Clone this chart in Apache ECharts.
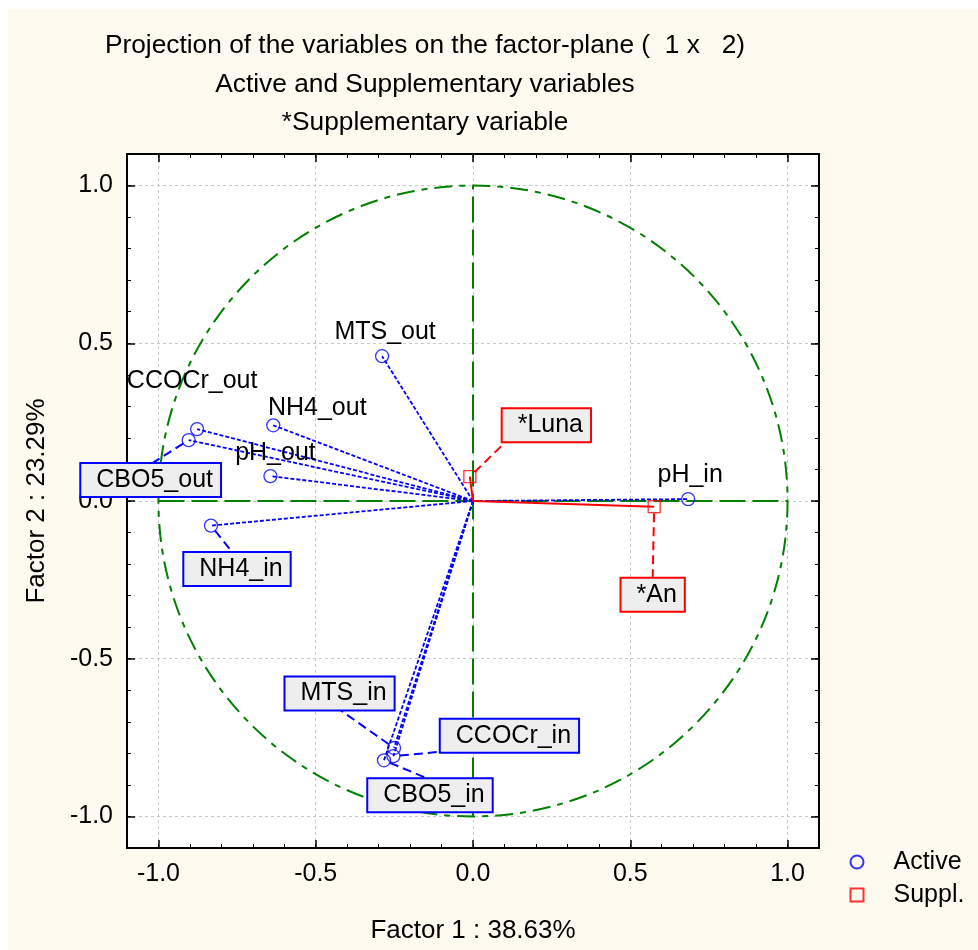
<!DOCTYPE html>
<html><head><meta charset="utf-8">
<script src="https://cdn.jsdelivr.net/npm/echarts@6/dist/echarts.min.js"></script>
<style>html,body{margin:0;padding:0;background:#fffaef}#c{width:978px;height:950px}</style>
</head><body><div id="c"></div>
<script>
// ---- data ----
const activeNames = ['MTS_out','NH4_out','CCOCr_out','CBO5_out','pH_out','NH4_in','pH_in','MTS_in','CCOCr_in','CBO5_in'];
const activeF1 = [-0.289,-0.635,-0.877,-0.904,-0.644,-0.833,0.684,-0.251,-0.253,-0.283];
const activeF2 = [0.459,0.240,0.228,0.193,0.079,-0.078,0.006,-0.783,-0.809,-0.822];
const supplNames = ['*Luna','*An'];
const supplF1 = [-0.010,0.576];
const supplF2 = [0.077,-0.018];
const majorTicks = [-1.0,-0.5,0.0,0.5,1.0];
const minorTicks = [-1.1,-1.0,-0.9,-0.8,-0.7,-0.6,-0.5,-0.4,-0.3,-0.2,-0.1,0.0,0.1,0.2,0.3,0.4,0.5,0.6,0.7,0.8,0.9,1.0,1.1];
const unitCircle = [[0,0,1]];
const axisCross = {h:[[-1,0],[1,0]], v:[[0,-1],[0,1]]};
const titleLines = ['Projection of the variables on the factor-plane (  1 x   2)','Active and Supplementary variables','*Supplementary variable'];
const xName = 'Factor 1 : 38.63%';
const yName = 'Factor 2 : 23.29%';
const legendNames = ['Active','Suppl.'];

// ---- styles / layout ----
const FONT = '"Liberation Sans", Arial, Helvetica, sans-serif';
const BLUE = '#0000ff', RED = '#ff0000', GREEN = '#008000';
const labelLayout = {
  'MTS_out':  {dx:3, dy:-24},
  'CCOCr_out':{dx:-5, dy:-48},
  'NH4_out':  {dx:44, dy:-17},
  'pH_out':   {dx:5, dy:-23},
  'pH_in':    {dx:2, dy:-24},
  'CBO5_out': {dx:-38, dy:40, box:true, ax:0, ay:-16},
  'NH4_in':   {dx:26, dy:43.5, box:true, ax:-4, ay:-16},
  'MTS_in':   {dx:-54.5, dy:-54.5, box:true, ax:0, ay:16},
  'CCOCr_in': {dx:116, dy:-20.5, box:true, ax:-69, ay:16},
  'CBO5_in':  {dx:46, dy:35, box:true, ax:-3, ay:-17},
  '*Luna':    {dx:76.5, dy:-51.5, box:true, ax:-40, ay:16},
  '*An':      {dx:-1.5, dy:88, box:true, ax:0, ay:-17}
};

const allNames = activeNames.concat(supplNames);
const activeData = activeF1.map((v,i)=>[v, activeF2[i]]);
const supplData = supplF1.map((v,i)=>[v, supplF2[i]]);
const allData = activeData.concat(supplData);

function axisDef(pos, ticks, major, showLab, name, nameGap) {
  const o = {
    type:'value', position:pos, min:-1.1, max:1.1,
    axisLine:{show:major, onZero:false, lineStyle:{color:'#000', width:2}},
    axisTick:{show:true, inside:true, length: major?8:4, customValues:ticks, lineStyle:{color:'#000', width: major?1.5:1}},
    axisLabel:{show:showLab, customValues:ticks, margin:14, formatter:v=>v.toFixed(1), fontSize:25, color:'#000', fontFamily:FONT},
    splitLine:{show:showLab, lineStyle:{color:'#c8c8c8', type:[3,3], width:1}}
  };
  if (name) {
    o.name = name; o.nameLocation = 'middle'; o.nameGap = nameGap;
    o.nameTextStyle = {fontSize:26, color:'#000', fontFamily:FONT};
  }
  return o;
}

function vectorSeries(data, color, width, dash, z) {
  return {
    type:'custom', silent:true, z:z, data:data,
    renderItem:function(params, api){
      const p0 = api.coord([0,0]);
      const p1 = api.coord([api.value(0), api.value(1)]);
      return {type:'line', shape:{x1:p0[0],y1:p0[1],x2:p1[0],y2:p1[1]},
        style:{stroke:color, lineWidth:width, lineDash:dash, fill:null}};
    }
  };
}

const option = {
  backgroundColor:'#fffaef',
  animation:false,
  graphic:[
    {type:'rect', shape:{x:0,y:0,width:978,height:9}, style:{fill:'#ffffff'}, silent:true},
    {type:'rect', shape:{x:0,y:0,width:8,height:950}, style:{fill:'#ffffff'}, silent:true},
    {type:'text', x:425, y:46, style:{text:titleLines[0], align:'center', verticalAlign:'middle', font:'26.3px '+FONT, fill:'#000'}},
    {type:'text', x:425, y:84.5, style:{text:titleLines[1], align:'center', verticalAlign:'middle', font:'26.3px '+FONT, fill:'#000'}},
    {type:'text', x:425, y:123, style:{text:titleLines[2], align:'center', verticalAlign:'middle', font:'26.3px '+FONT, fill:'#000'}}
  ],
  grid:{left:127, top:154, width:692, height:694, show:true, backgroundColor:'#ffffff', borderWidth:0, containLabel:false, outerBoundsMode:'none'},
  legend:{
    orient:'vertical', left:849.5, top:849.5, padding:0, itemGap:8, itemWidth:13, itemHeight:13,
    data:[{name:legendNames[0], icon:'circle'},{name:legendNames[1], icon:'rect'}],
    textStyle:{fontSize:25, color:'#000', fontFamily:FONT, padding:[0,0,0,25]},
    selectedMode:false
  },
  xAxis:[
    axisDef('bottom', majorTicks, true, true, xName, 70),
    axisDef('bottom', minorTicks, false, false),
    axisDef('top', majorTicks, true, false),
    axisDef('top', minorTicks, false, false)
  ],
  yAxis:[
    axisDef('left', majorTicks, true, true, yName, 77),
    axisDef('left', minorTicks, false, false),
    axisDef('right', majorTicks, true, false),
    axisDef('right', minorTicks, false, false)
  ],
  series:[
    {
      type:'custom', silent:true, z:1, data:unitCircle,
      renderItem:function(params, api){
        const c = api.coord([api.value(0), api.value(1)]);
        const s = api.size([api.value(2), api.value(2)]);
        return {type:'ellipse', shape:{cx:c[0], cy:c[1], rx:s[0], ry:s[1]},
          style:{fill:null, stroke:GREEN, lineWidth:2, lineDash:[18,7,6,7]}};
      }
    },
    {type:'line', silent:true, z:1, data:axisCross.h, symbol:'none', lineStyle:{color:GREEN, width:2, type:[26,7]}},
    {type:'line', silent:true, z:1, data:axisCross.v, symbol:'none', lineStyle:{color:GREEN, width:2, type:[26,7]}},
    vectorSeries(activeData, BLUE, 1.8, [4,2], 2),
    vectorSeries(supplData, RED, 2, null, 2),
    {name:legendNames[0], type:'scatter', z:3, data:activeData, symbol:'circle', symbolSize:13,
      itemStyle:{color:'rgba(0,0,0,0)', borderColor:BLUE, borderWidth:1.3}},
    {name:legendNames[1], type:'scatter', z:3, data:supplData, symbol:'rect', symbolSize:12,
      itemStyle:{color:'rgba(0,0,0,0)', borderColor:RED, borderWidth:1.3}},
    {
      type:'custom', silent:true, z:4, data:allData,
      renderItem:function(params, api){
        const i = params.dataIndex;
        const name = allNames[i];
        const L = labelLayout[name];
        const p = api.coord([api.value(0), api.value(1)]);
        const cx = p[0] + L.dx, cy = p[1] + L.dy;
        const color = i < activeNames.length ? BLUE : RED;
        const children = [];
        if (L.box) {
          const ex = cx + L.ax, ey = cy + L.ay;
          const ddx = ex - p[0], ddy = ey - p[1];
          const d = Math.hypot(ddx, ddy) || 1;
          const r = 6.5;
          children.push({type:'line', shape:{x1:p[0]+ddx/d*r, y1:p[1]+ddy/d*r, x2:ex, y2:ey},
            style:{stroke:color, lineWidth:2, lineDash:[9,5]}});
          children.push({type:'text', style:{text:name, x:cx, y:cy, align:'center', verticalAlign:'middle',
            font:'25px '+FONT, fill:'#000', backgroundColor:'#eeeeee', borderColor:color, borderWidth:2,
            padding:[4,7,3,15]}});
        } else {
          children.push({type:'text', style:{text:name, x:cx, y:cy, align:'center', verticalAlign:'middle',
            font:'25px '+FONT, fill:'#000'}});
        }
        return {type:'group', children:children};
      }
    }
  ]
};
const chart = echarts.init(document.getElementById('c'));
chart.setOption(option);
</script>
</body></html>
